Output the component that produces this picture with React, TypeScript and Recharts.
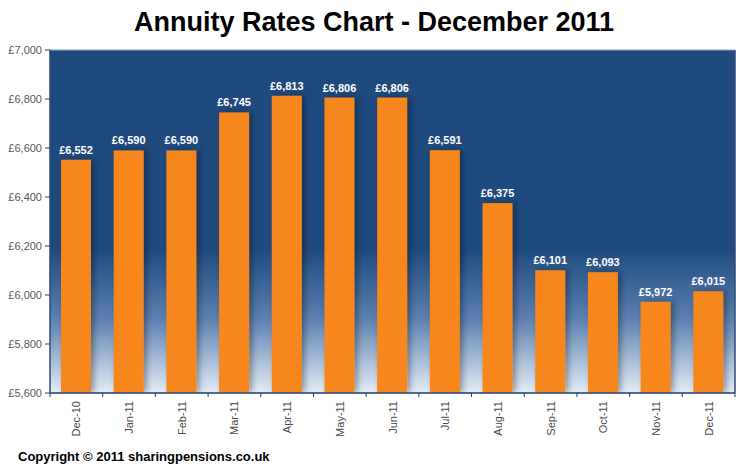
import React from "react";
import { BarChart, Bar, XAxis, YAxis, CartesianGrid, LabelList } from "recharts";

const months = ["Dec-10", "Jan-11", "Feb-11", "Mar-11", "Apr-11", "May-11", "Jun-11", "Jul-11", "Aug-11", "Sep-11", "Oct-11", "Nov-11", "Dec-11"];
const rates = [6552, 6590, 6590, 6745, 6813, 6806, 6806, 6591, 6375, 6101, 6093, 5972, 6015];
const yTicks = [5600, 5800, 6000, 6200, 6400, 6600, 6800, 7000];
const titleText = "Annuity Rates Chart - December 2011";
const copyrightText = "Copyright \u00A9 2011 sharingpensions.co.uk";

const data = months.map((m, i) => ({ month: m, rate: rates[i] }));

const FONT = "'Liberation Sans', Arial, sans-serif";
const gbp = (v: number) => "\u00A3" + v.toLocaleString("en-GB");

const CatTick = (props: any) => {
  const { x, y, payload, index } = props;
  const half = payload && payload.offset ? payload.offset : 26.4;
  const last = index === months.length - 1;
  return (
    <g>
      <line x1={x - half} x2={x - half} y1={y} y2={y + 4} stroke="#2b3f5c" strokeWidth={1} />
      {last && <line x1={x + half} x2={x + half} y1={y} y2={y + 4} stroke="#2b3f5c" strokeWidth={1} />}
      <text
        x={x}
        y={y + 8}
        transform={`rotate(-90, ${x}, ${y + 8})`}
        textAnchor="end"
        dominantBaseline="central"
        fontFamily={FONT}
        fontSize={11}
        fill="#4a4a4a"
      >
        {payload.value}
      </text>
    </g>
  );
};

const ShadowBar = (props: any) => {
  const { x, y, width, height, fill } = props;
  if (!height || height <= 0) return null;
  return <rect x={x} y={y} width={width} height={height} fill={fill} filter="url(#barShadow)" />;
};

export default function App() {
  return (
    <div style={{ position: "absolute", left: 0, top: 0, width: 750, height: 468, background: "#fff" }}>
      <BarChart
        width={750}
        height={468}
        data={data}
        margin={{ top: 50, right: 0, bottom: 30, left: 0 }}
      >
        <defs>
          <linearGradient id="plotBg" x1="0" y1="0" x2="0" y2="1">
            <stop offset="0" stopColor="#1F4A7E" />
            <stop offset="0.58" stopColor="#1F4A7E" />
            <stop offset="0.78" stopColor="#5A7FAF" />
            <stop offset="1" stopColor="#E4ECF6" />
          </linearGradient>
          <filter id="barShadow" x="-50%" y="-10%" width="200%" height="120%">
            <feDropShadow dx="3" dy="0" stdDeviation="3" floodColor="#000" floodOpacity="0.35" />
          </filter>
        </defs>
        <CartesianGrid vertical={false} stroke="#8EA9CF" strokeWidth={1} fill="url(#plotBg)" fillOpacity={1} />
        <XAxis
          dataKey="month"
          height={45}
          tickSize={0}
          tickMargin={0}
          interval={0}
          tick={<CatTick />}
          axisLine={{ stroke: "#2b4a78", strokeWidth: 1.5 }}
          tickLine={false}
        />
        <YAxis
          yAxisId="left"
          width={50}
          domain={[5600, 7000]}
          ticks={yTicks}
          tickFormatter={gbp}
          allowDataOverflow
          tick={{ fontSize: 11, fill: "#595959", fontFamily: FONT }}
          tickSize={5}
          tickMargin={3}
          tickLine={{ stroke: "#404040" }}
          axisLine={{ stroke: "#2b4a78", strokeWidth: 1.5 }}
        />
        <YAxis
          yAxisId="right"
          orientation="right"
          width={15}
          domain={[5600, 7000]}
          tick={false}
          tickLine={false}
          axisLine={{ stroke: "#2b4a78", strokeWidth: 1.5 }}
        />
        <Bar yAxisId="left" dataKey="rate" fill="#F7861C" barSize={30} isAnimationActive={false} shape={<ShadowBar />}>
          <LabelList
            dataKey="rate"
            position="top"
            offset={6}
            formatter={(v: any) => gbp(Number(v))}
            fill="#ffffff"
            fontSize={11}
            fontWeight="bold"
            fontFamily={FONT}
          />
        </Bar>
      </BarChart>
      <svg width={750} height={468} style={{ position: "absolute", left: 0, top: 0, pointerEvents: "none" }}>
        <text x={374} y={31} textAnchor="middle" fontFamily={FONT} fontWeight="bold" fontSize={27} fill="#000">
          {titleText}
        </text>
        <text x={18} y={461} fontFamily={FONT} fontWeight="bold" fontSize={13} fill="#000">
          {copyrightText}
        </text>
      </svg>
    </div>
  );
}
